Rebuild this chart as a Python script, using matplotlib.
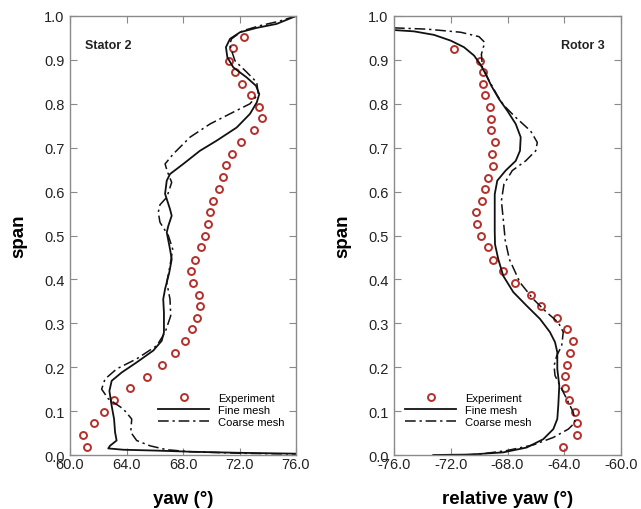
import matplotlib
matplotlib.use("Agg")
import matplotlib.pyplot as plt

plt.rcParams['font.family'] = ['Liberation Sans', 'DejaVu Sans']

# ---------------- Stator 2 data ----------------
s2_exp_yaw = [72.32, 71.56, 71.28, 71.66, 72.18, 72.79, 73.40, 73.59, 73.03, 72.13,
              71.47, 71.04, 70.81, 70.53, 70.15, 69.91, 69.77, 69.58, 69.30, 68.87,
              68.59, 68.73, 69.11, 69.20, 69.01, 68.64, 68.16, 67.41, 66.51, 65.47,
              64.25, 63.12, 62.41, 61.70, 60.94, 61.23]
s2_exp_span = [0.953, 0.926, 0.898, 0.873, 0.846, 0.819, 0.792, 0.767, 0.740, 0.712,
               0.686, 0.660, 0.633, 0.605, 0.579, 0.553, 0.526, 0.499, 0.473, 0.445,
               0.418, 0.392, 0.364, 0.339, 0.313, 0.286, 0.259, 0.232, 0.206, 0.178,
               0.152, 0.125, 0.099, 0.072, 0.045, 0.018]

s2_fine_yaw = [76.00, 74.63, 73.22, 72.04, 71.33, 71.04, 71.14, 71.56, 72.51, 73.17,
               73.40, 73.22, 72.74, 71.80, 70.38, 69.20, 68.02, 67.08, 66.85, 66.73,
               66.96, 67.08, 67.20, 66.96, 66.85, 67.08, 67.20, 67.03, 66.73, 66.60,
               66.65, 66.65, 66.49, 65.90, 64.72, 63.66, 62.95, 62.79, 62.95, 63.12,
               63.19, 63.30, 62.83, 62.71, 63.77, 66.14, 68.50, 72.00, 76.00]
s2_fine_span = [1.000, 0.982, 0.973, 0.963, 0.948, 0.929, 0.906, 0.883, 0.860, 0.841,
                0.822, 0.803, 0.777, 0.746, 0.716, 0.693, 0.663, 0.640, 0.625, 0.595,
                0.572, 0.560, 0.545, 0.522, 0.507, 0.469, 0.446, 0.416, 0.378, 0.355,
                0.325, 0.279, 0.260, 0.238, 0.211, 0.188, 0.169, 0.146, 0.112, 0.082,
                0.052, 0.033, 0.021, 0.015, 0.012, 0.010, 0.0075, 0.005, 0.003]

s2_coarse_yaw = [76.00, 74.80, 73.45, 72.20, 71.44, 71.30, 71.44, 71.68, 72.51, 73.22,
                 73.33, 72.74, 71.56, 69.91, 68.50, 67.32, 66.73, 66.90, 67.20, 66.85,
                 66.37, 66.25, 66.37, 66.96, 67.27, 67.08, 66.85, 67.08, 67.13, 66.73,
                 66.14, 64.72, 63.30, 62.48, 62.24, 62.71, 63.77, 64.37, 64.30, 64.72,
                 65.66, 66.85, 68.50, 72.00, 76.00]
s2_coarse_span = [1.000, 0.988, 0.978, 0.966, 0.948, 0.935, 0.921, 0.898, 0.872, 0.849,
                  0.822, 0.800, 0.781, 0.754, 0.724, 0.686, 0.663, 0.645, 0.621, 0.587,
                  0.570, 0.553, 0.530, 0.500, 0.469, 0.431, 0.393, 0.355, 0.317, 0.279,
                  0.249, 0.219, 0.196, 0.173, 0.150, 0.128, 0.105, 0.082, 0.052, 0.033,
                  0.021, 0.012, 0.0075, 0.004, 0.002]

# ---------------- Rotor 3 data ----------------
r3_exp_yaw = [-71.75, -69.94, -69.75, -69.70, -69.61, -69.23, -69.14, -69.19, -68.90, -69.09,
              -69.04, -69.38, -69.57, -69.80, -70.22, -70.13, -69.89, -69.38, -69.04, -68.34,
              -67.45, -66.32, -65.62, -64.49, -63.83, -63.36, -63.60, -63.79, -63.93, -63.97,
              -63.64, -63.22, -63.08, -63.08, -64.07]
r3_exp_span = [0.925, 0.898, 0.873, 0.846, 0.819, 0.792, 0.766, 0.740, 0.712, 0.686,
               0.659, 0.632, 0.605, 0.579, 0.553, 0.526, 0.499, 0.473, 0.445, 0.418,
               0.392, 0.364, 0.339, 0.313, 0.286, 0.259, 0.232, 0.206, 0.179, 0.153,
               0.125, 0.099, 0.072, 0.045, 0.018]

r3_fine_yaw = [-76.00, -74.59, -73.18, -72.01, -71.07, -70.36, -69.94, -69.54, -69.14, -68.60,
               -68.01, -67.42, -67.07, -67.12, -67.42, -68.13, -68.72, -68.90, -68.90, -68.90,
               -68.88, -68.65, -68.30, -67.59, -66.65, -65.71, -65.01, -64.65, -64.49, -64.49,
               -64.35, -64.42, -64.49, -64.77, -65.48, -66.65, -68.30, -70.64, -73.23]
r3_fine_span = [0.968, 0.965, 0.957, 0.944, 0.929, 0.910, 0.891, 0.868, 0.841, 0.811,
                0.784, 0.754, 0.724, 0.693, 0.670, 0.648, 0.625, 0.594, 0.549, 0.510,
                0.480, 0.446, 0.408, 0.371, 0.340, 0.310, 0.280, 0.257, 0.234, 0.196,
                0.158, 0.113, 0.082, 0.059, 0.036, 0.017, 0.006, 0.001, 0.000]

r3_coarse_yaw = [-76.00, -73.65, -71.30, -70.01, -69.61, -69.70, -69.84, -69.77, -69.30, -68.72,
                 -68.25, -67.42, -66.37, -65.90, -66.01, -66.72, -67.66, -68.25, -68.43, -68.29,
                 -68.20, -68.18, -67.87, -67.12, -66.18, -65.24, -64.42, -64.07, -64.18, -64.53,
                 -64.72, -64.65, -64.30, -63.83, -63.36, -63.24, -63.71, -64.77, -66.18, -68.06,
                 -69.94, -71.35]
r3_coarse_span = [0.973, 0.970, 0.963, 0.953, 0.940, 0.929, 0.913, 0.883, 0.853, 0.819,
                  0.796, 0.769, 0.738, 0.712, 0.693, 0.670, 0.648, 0.617, 0.579, 0.534,
                  0.503, 0.492, 0.446, 0.393, 0.355, 0.325, 0.302, 0.280, 0.249, 0.226,
                  0.203, 0.181, 0.158, 0.128, 0.097, 0.074, 0.059, 0.040, 0.023, 0.010,
                  0.002, 0.000]

stator_xticks = [60.0, 64.0, 68.0, 72.0, 76.0]
rotor_xticks = [-76.0, -72.0, -68.0, -64.0, -60.0]
span_ticks = [0.0, 0.1, 0.2, 0.3, 0.4, 0.5, 0.6, 0.7, 0.8, 0.9, 1.0]

exp_color = '#b3302c'
line_color = '#111111'
frame_color = '#8a8a8a'
dashdot = (0, (7, 2.5, 1.5, 2.5))

fig = plt.figure(figsize=(6.41, 5.10), dpi=100)
axL = fig.add_axes([70/641, 1-456/510, 226/641, 439/510])
axR = fig.add_axes([394/641, 1-456/510, 227/641, 439/510])


def style(ax, xticks, xlim, xlabel):
    ax.set_xlim(*xlim)
    ax.set_ylim(0, 1)
    ax.set_xticks(xticks)
    ax.set_xticklabels(['%.1f' % t for t in xticks])
    ax.set_yticks(span_ticks)
    ax.set_yticklabels(['%.1f' % t for t in span_ticks])
    ax.tick_params(direction='in', length=5, width=0.8, color=frame_color,
                   labelsize=10.5, labelcolor='#222222', top=True, right=True)
    ax.tick_params(axis='x', pad=1.5)
    ax.tick_params(axis='y', pad=4)
    for sp in ax.spines.values():
        sp.set_color(frame_color)
        sp.set_linewidth(1.0)
    ax.set_xlabel(xlabel, fontsize=13.5, fontweight='bold', labelpad=13.5)
    ax.set_ylabel('span', fontsize=13.5, fontweight='bold', labelpad=12)


# Stator 2
axL.plot(s2_exp_yaw, s2_exp_span, 'o', ms=5, mfc='none', mec=exp_color, mew=1.4,
         label='Experiment', clip_on=False)
axL.plot(s2_fine_yaw, s2_fine_span, '-', color=line_color, lw=1.3, label='Fine mesh')
axL.plot(s2_coarse_yaw, s2_coarse_span, color=line_color, lw=1.1, linestyle=dashdot,
         label='Coarse mesh')
style(axL, stator_xticks, (60, 76), 'yaw (°)')
axL.text(0.065, 0.935, 'Stator 2', transform=axL.transAxes, fontsize=9,
         fontweight='bold', va='center', ha='left', color='#222222')
axL.legend(loc='upper left', bbox_to_anchor=(0.39, 0.142), frameon=False,
           fontsize=8, handlelength=4.6, handletextpad=0.8, labelspacing=0.2,
           borderpad=0, borderaxespad=0, numpoints=1)

# Rotor 3
axR.plot(r3_exp_yaw, r3_exp_span, 'o', ms=5, mfc='none', mec=exp_color, mew=1.4,
         label='Experiment', clip_on=False)
axR.plot(r3_fine_yaw, r3_fine_span, '-', color=line_color, lw=1.3, label='Fine mesh')
axR.plot(r3_coarse_yaw, r3_coarse_span, color=line_color, lw=1.1, linestyle=dashdot,
         label='Coarse mesh')
style(axR, rotor_xticks, (-76, -60), 'relative yaw (°)')
axR.text(0.93, 0.935, 'Rotor 3', transform=axR.transAxes, fontsize=9,
         fontweight='bold', va='center', ha='right', color='#222222')
axR.legend(loc='upper left', bbox_to_anchor=(0.05, 0.142), frameon=False,
           fontsize=8, handlelength=4.6, handletextpad=0.8, labelspacing=0.2,
           borderpad=0, borderaxespad=0, numpoints=1)

fig.savefig('out.png', dpi=100)
